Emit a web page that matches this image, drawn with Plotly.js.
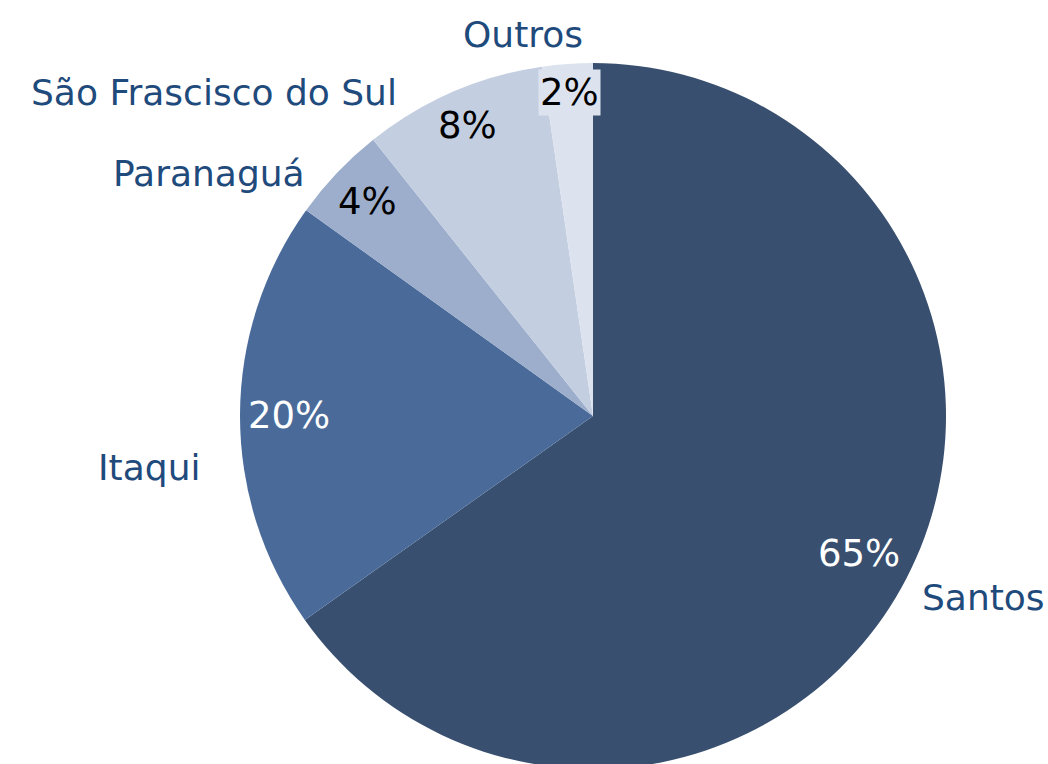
<!DOCTYPE html>
<html>
<head>
<meta charset="utf-8">
<script src="https://cdn.plot.ly/plotly-3.0.1.min.js"></script>
<style>
html,body{margin:0;padding:0;overflow:hidden;background:#fff;}
#chart{width:1048px;height:776px;}
</style>
</head>
<body>
<div id="chart"></div>
<script>
// ---- data ----
const categories = ["Santos", "Itaqui", "Paranaguá", "São Frascisco do Sul", "Outros"];
const shares = [65.2, 19.7, 4.4, 8.4, 2.3];

// ---- styles ----
const sliceColors = ["#384f6f", "#4a6b9a", "#9caecc", "#c3cee1", "#dde3ee"];
const pctColors = ["#ffffff", "#ffffff", "#000000", "#000000", "#000000"];
const nameColor = "#1f4a7c";
const FONT = "DejaVu Sans";
const FS_NAME = 36;
const FS_PCT = 37;

// ---- geometry (pixels) ----
const W = 1048, H = 776;
const CX = 593, CY = 416, R = 353;
const dom = {x: [(CX - R) / W, (CX + R) / W], y: [(H - CY - R) / H, (H - CY + R) / H]};

// name label placement: [x px, y px, xanchor]
const namePos = [
  [920, 597, "left"],
  [202, 467, "right"],
  [307, 173, "right"],
  [399, 92, "right"],
  [523, 35, "center"]
];

const ctx = document.createElement("canvas").getContext("2d");
ctx.font = FS_PCT + "px '" + FONT + "'";

const total = shares.reduce((a, b) => a + b, 0);
const annotations = [];
let cum = 0;
shares.forEach((v, i) => {
  const pct = Math.round(v / total * 100) + "%";
  const mid = (cum + v / 2) / total * 2 * Math.PI;
  cum += v;
  const s = Math.sin(mid), c = -Math.cos(mid);
  const hw = ctx.measureText(pct).width / 2 + 4;
  const hh = FS_PCT * 0.5 + 3;
  const dx = Math.sign(s) * hw, dy = Math.sign(c) * hh;
  const Rp = R - 3;
  const b = s * dx + c * dy;
  const r = -b + Math.sqrt(b * b - (dx * dx + dy * dy - Rp * Rp));
  const px = CX + r * s, py = CY + r * c;
  const ann = {
    x: px / W, y: 1 - py / H, xref: "paper", yref: "paper",
    xanchor: "center", yanchor: "middle", showarrow: false,
    text: pct, font: {family: FONT, size: FS_PCT, color: pctColors[i]}
  };
  if (i === shares.length - 1) { ann.bgcolor = sliceColors[i]; ann.borderpad = 1; }
  annotations.push(ann);
  annotations.push({
    x: namePos[i][0] / W, y: 1 - namePos[i][1] / H, xref: "paper", yref: "paper",
    xanchor: namePos[i][2], yanchor: "middle", showarrow: false,
    text: categories[i], font: {family: FONT, size: FS_NAME, color: nameColor}
  });
});

const trace = {
  type: "pie",
  labels: categories,
  values: shares,
  sort: false,
  direction: "clockwise",
  rotation: 0,
  textinfo: "none",
  hoverinfo: "label+percent",
  marker: {colors: sliceColors, line: {width: 0}},
  domain: dom,
  showlegend: false
};

Plotly.newPlot("chart", [trace], {
  width: W, height: H,
  margin: {l: 0, r: 0, t: 0, b: 0},
  paper_bgcolor: "#ffffff",
  showlegend: false,
  annotations: annotations
}, {staticPlot: true});
</script>
</body>
</html>
